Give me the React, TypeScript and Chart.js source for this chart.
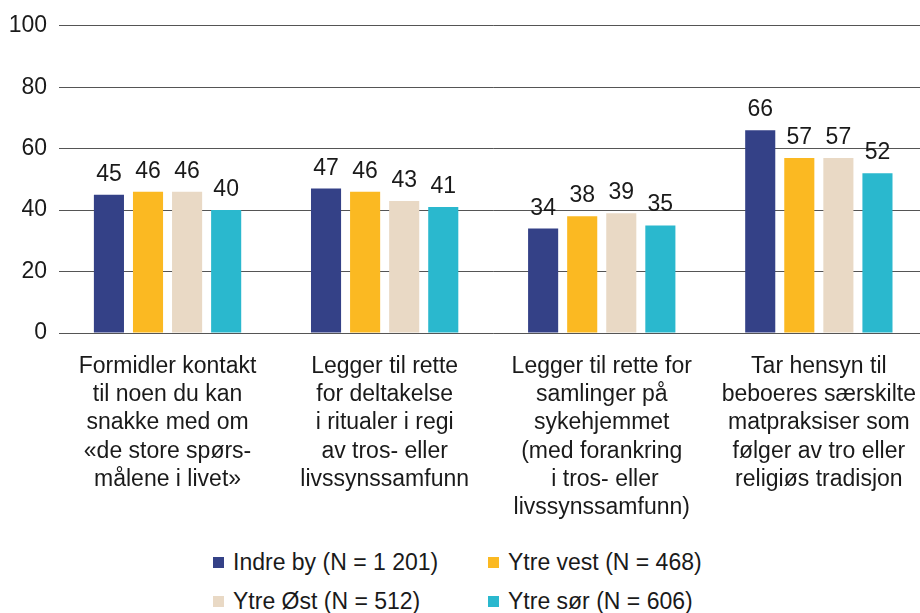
import React, { useEffect, useRef } from "react";
import { Chart, registerables } from "chart.js";

Chart.register(...registerables);

const categories: string[][] = [
  ["Formidler kontakt", "til noen du kan", "snakke med om", "«de store spørs-", "målene i livet»"],
  ["Legger til rette", "for deltakelse", "i ritualer i regi", "av tros- eller", "livssynssamfunn"],
  ["Legger til rette for", "samlinger på", "sykehjemmet", "(med forankring", " i tros- eller", "livssynssamfunn)"],
  ["Tar hensyn til", "beboeres særskilte", "matpraksiser som", "følger av tro eller", "religiøs tradisjon"],
];

const seriesNames = [
  "Indre by (N = 1 201)",
  "Ytre vest (N = 468)",
  "Ytre Øst (N = 512)",
  "Ytre sør (N = 606)",
];
const indreBy = [45, 47, 34, 66];
const ytreVest = [46, 46, 38, 57];
const ytreOst = [46, 43, 39, 57];
const ytreSor = [40, 41, 35, 52];
const colors = ["#344187", "#FBB922", "#E9D9C5", "#2AB8CE"];
const yTicks = [0, 20, 40, 60, 80, 100];

const FONT = "'Liberation Sans', Arial, Helvetica, sans-serif";
const FS = 23;
const TEXT = "#1a1a1a";

const valueLabels = {
  id: "valueLabels",
  afterDatasetsDraw(chart: any) {
    const ctx = chart.ctx;
    ctx.save();
    ctx.font = `${FS}px ${FONT}`;
    ctx.fillStyle = TEXT;
    ctx.textAlign = "center";
    ctx.textBaseline = "alphabetic";
    chart.data.datasets.forEach((ds: any, i: number) => {
      const meta = chart.getDatasetMeta(i);
      meta.data.forEach((el: any, j: number) => {
        ctx.fillText(String(ds.data[j]), el.x, el.y - 14);
      });
    });
    ctx.restore();
  },
};

export default function App() {
  const ref = useRef<HTMLCanvasElement>(null);
  useEffect(() => {
    if (!ref.current) return;
    const data = [indreBy, ytreVest, ytreOst, ytreSor];
    const chart = new Chart(ref.current, {
      type: "bar",
      data: {
        labels: categories,
        datasets: data.map((d, i) => ({
          label: seriesNames[i],
          data: d,
          backgroundColor: colors[i],
          categoryPercentage: 0.72,
          barPercentage: 0.77,
        })),
      },
      options: {
        responsive: false,
        animation: false,
        layout: { padding: { top: 24, left: 0, right: 0, bottom: 0 } },
        plugins: { legend: { display: false }, tooltip: { enabled: false } },
        scales: {
          x: {
            grid: { display: false },
            border: { display: false },
            ticks: {
              color: TEXT,
              font: { family: FONT, size: FS, lineHeight: 1.22 },
              padding: 12,
              maxRotation: 0,
              autoSkip: false,
            },
            afterFit(scale: any) {
              scale.height = 207;
            },
          },
          y: {
            min: 0,
            max: 100,
            afterBuildTicks(scale: any) {
              scale.ticks = yTicks.map((v) => ({ value: v }));
            },
            grid: { color: "#555", lineWidth: 1, drawTicks: false },
            border: { display: false },
            ticks: {
              color: TEXT,
              font: { family: FONT, size: FS },
              padding: 12,
            },
            afterFit(scale: any) {
              scale.width = 59;
            },
          },
        },
      },
      plugins: [valueLabels],
    });
    return () => chart.destroy();
  }, []);

  const legendItem = (i: number, left: number, top: number) => (
    <div
      key={i}
      style={{
        position: "absolute",
        left,
        top,
        display: "flex",
        alignItems: "center",
        fontFamily: FONT,
        fontSize: FS,
        color: TEXT,
        whiteSpace: "nowrap",
      }}
    >
      <span style={{ display: "inline-block", width: 11, height: 11, background: colors[i], marginRight: 9 }} />
      <span>{seriesNames[i]}</span>
    </div>
  );

  return (
    <div style={{ position: "fixed", left: 0, top: 0, width: 920, height: 613, overflow: "hidden", background: "#fff" }}>
      <canvas ref={ref} width={928} height={540} style={{ position: "absolute", left: 0, top: 0 }} />
      {legendItem(0, 213, 549)}
      {legendItem(1, 488, 549)}
      {legendItem(2, 213, 588)}
      {legendItem(3, 488, 588)}
    </div>
  );
}
